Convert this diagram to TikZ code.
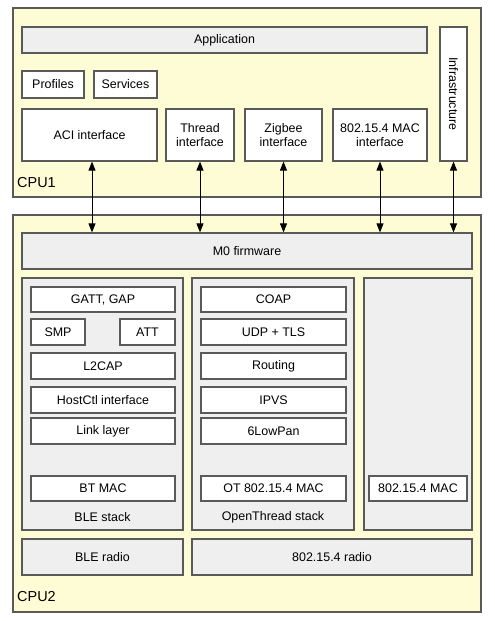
\documentclass[tikz,border=0pt]{standalone}
\usepackage{fontspec}
\setmainfont{Liberation Sans}
\usetikzlibrary{arrows.meta}
\definecolor{cpuyellow}{HTML}{FEFCD4}
\definecolor{layergrey}{HTML}{EFEFEF}
\definecolor{edgegrey}{HTML}{5A5A5A}
\begin{document}
\begin{tikzpicture}[x=1bp,y=-1bp,
  every node/.style={inner sep=0pt,font=\fontsize{12.5}{14.5}\selectfont,align=center},
  cpu/.style={draw=edgegrey,line width=1.2bp,fill=cpuyellow},
  cpulabel/.style={anchor=west,font=\fontsize{14.5}{16}\selectfont},
  layer/.style={draw=edgegrey,line width=1.2bp,fill=layergrey},
  box/.style={draw=edgegrey,line width=1.2bp,fill=white},
  link/.style={line width=0.9bp,{Triangle[length=9bp,width=7bp]}-{Triangle[length=9bp,width=7bp]}}]
  \useasboundingbox[fill=white] (0,0) rectangle (495,621);
  % CPU1
  \node[cpu,minimum width=468bp,minimum height=189bp] (cpu1) at (247,102.5) {};
  \node[cpulabel] (cpu1lbl) at (17,183) {CPU1};
  \node[layer,minimum width=405bp,minimum height=26bp] (app) at (224.5,40) {Application};
  \node[box,minimum width=134bp,minimum height=27bp,rotate=-90] (infra) at (453.5,94) {Infrastructure};
  \node[box,minimum width=62bp,minimum height=27bp] (profiles) at (53,84.5) {Profiles};
  \node[box,minimum width=63bp,minimum height=27bp] (services) at (125.5,84.5) {Services};
  \node[box,minimum width=135bp,minimum height=52bp] (aci) at (89.5,135) {ACI interface};
  \node[box,minimum width=68bp,minimum height=52bp] (thread) at (200,135) {Thread\\interface};
  \node[box,minimum width=77bp,minimum height=52bp] (zigbee) at (283.5,135) {Zigbee\\interface};
  \node[box,minimum width=94bp,minimum height=52bp] (maciface) at (380,135) {802.15.4 MAC\\interface};
  % CPU2
  \node[cpu,minimum width=468bp,minimum height=397bp] (cpu2) at (247,413.5) {};
  \node[cpulabel] (cpu2lbl) at (17,597) {CPU2};
  \node[layer,minimum width=450bp,minimum height=36bp] (m0) at (247,251) {M0 firmware};
  % BLE stack
  \node[layer,minimum width=161bp,minimum height=252bp] (ble) at (102.5,404) {};
  \node (blelbl) at (102.5,517) {BLE stack};
  \node[box,minimum width=144bp,minimum height=25bp] (gatt) at (103,299.5) {GATT, GAP};
  \node[box,minimum width=54bp,minimum height=26bp] (smp) at (58,332) {SMP};
  \node[box,minimum width=55bp,minimum height=26bp] (att) at (147.5,332) {ATT};
  \node[box,minimum width=144bp,minimum height=26bp] (l2cap) at (103,366) {L2CAP};
  \node[box,minimum width=144bp,minimum height=26bp] (hostctl) at (103,400) {HostCtl interface};
  \node[box,minimum width=144bp,minimum height=26bp] (linklayer) at (103,431) {Link layer};
  \node[box,minimum width=144bp,minimum height=25bp] (btmac) at (103,488.5) {BT MAC};
  % OpenThread stack
  \node[layer,minimum width=162bp,minimum height=252bp] (ot) at (273,404) {};
  \node (otlbl) at (273,517) {OpenThread stack};
  \node[box,minimum width=145bp,minimum height=25bp] (coap) at (273.5,299.5) {COAP};
  \node[box,minimum width=145bp,minimum height=26bp] (udp) at (273.5,332) {UDP + TLS};
  \node[box,minimum width=145bp,minimum height=26bp] (routing) at (273.5,366) {Routing};
  \node[box,minimum width=145bp,minimum height=26bp] (ipvs) at (273.5,400) {IPVS};
  \node[box,minimum width=145bp,minimum height=26bp] (lowpan) at (273.5,431) {6LowPan};
  \node[box,minimum width=145bp,minimum height=25bp] (otmac) at (273.5,488.5) {OT 802.15.4 MAC};
  % 802.15.4 MAC column
  \node[layer,minimum width=108bp,minimum height=252bp] (macstack) at (418,404) {};
  \node[box,minimum width=98bp,minimum height=25bp] (mac) at (418,488.5) {802.15.4 MAC};
  % radios
  \node[layer,minimum width=161bp,minimum height=36bp] (bleradio) at (102.5,557) {BLE radio};
  \node[layer,minimum width=280bp,minimum height=36bp] (radio) at (332,557) {802.15.4 radio};
  % links CPU1 <-> M0
  \draw[link] ([xshift=2.5bp]aci.south) -- ([xshift=2.5bp]aci.south |- m0.north);
  \draw[link] (thread.south) -- (thread.south |- m0.north);
  \draw[link] (zigbee.south) -- (zigbee.south |- m0.north);
  \draw[link] (maciface.south) -- (maciface.south |- m0.north);
  \draw[link] (infra.east) -- (infra.east |- m0.north);
\end{tikzpicture}
\end{document}
